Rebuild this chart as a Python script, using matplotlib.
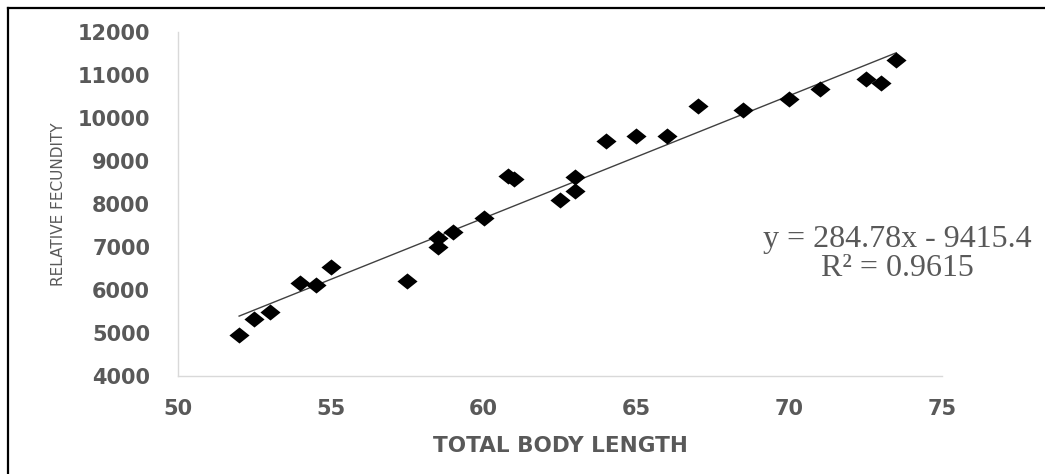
import matplotlib
matplotlib.use("Agg")
import matplotlib.pyplot as plt
from matplotlib.lines import Line2D
import numpy as np

# total body length vs relative fecundity
body_length = [52, 52.5, 53, 54, 54.5, 55, 57.5, 58.5, 58.5, 59, 60, 60.8, 61,
               62.5, 63, 63, 64, 65, 66, 67, 68.5, 70, 71, 72.5, 73, 73.5]
fecundity = [4950, 5320, 5490, 6160, 6120, 6530, 6210, 7210, 7000, 7350, 7680,
             8650, 8580, 8090, 8300, 8620, 9460, 9580, 9580, 10280, 10190,
             10440, 10670, 10910, 10810, 11340]

# trend line as printed on the chart
slope = 284.78
intercept = -9415.4
r_squared = 0.9615

x_ticks = [50, 55, 60, 65, 70, 75]
y_ticks = [4000, 5000, 6000, 7000, 8000, 9000, 10000, 11000, 12000]

grey = "#595959"

fig = plt.figure(figsize=(10.45, 4.74), dpi=100)
ax = fig.add_axes([178 / 1045, 1 - 376 / 474, 764 / 1045, 344 / 474])

# a diamond a bit wider than tall, like the picture
diamond = [(-1, 0), (0, 0.8), (1, 0), (0, -0.8), (-1, 0)]
ax.scatter(body_length, fecundity, marker=diamond, s=210, color="black",
           zorder=3, linewidths=0)

xs = np.array([min(body_length), max(body_length)])
ax.plot(xs, slope * xs + intercept, color="#404040", lw=1.0, zorder=2)

ax.set_xlim(50, 75)
ax.set_ylim(4000, 12000)
ax.set_xticks(x_ticks)
ax.set_yticks(y_ticks)

for side in ["top", "right"]:
    ax.spines[side].set_visible(False)
for side in ["left", "bottom"]:
    ax.spines[side].set_color("#d9d9d9")
    ax.spines[side].set_linewidth(1.0)

ax.tick_params(axis="both", length=0, labelsize=15, labelcolor=grey)
ax.tick_params(axis="y", pad=20)
ax.tick_params(axis="x", pad=16.5)
for lab in ax.get_xticklabels() + ax.get_yticklabels():
    lab.set_fontweight("bold")
    lab.set_family("DejaVu Sans")

ax.set_xlabel("TOTAL BODY LENGTH", fontsize=15.5, fontweight="bold", color=grey,
              family="DejaVu Sans")
ax.xaxis.set_label_coords(0.5, -0.174)
ax.set_ylabel("RELATIVE FECUNDITY", fontsize=11, color=grey,
              family=["Liberation Sans Narrow", "DejaVu Sans"])
ax.yaxis.set_label_coords(-0.146, 0.5)

eq = "y = %.2fx - %.1f\nR² = %.4f" % (slope, -intercept, r_squared)
fig.text(897 / 1045, 1 - 254 / 474, eq, ha="center", va="center",
         multialignment="center", fontsize=23, color=grey,
         family="Liberation Serif", linespacing=1.0)

# outer frame, only the top and left edges show in the picture
fig.add_artist(Line2D([8 / 1045, 1.0], [1 - 8 / 474, 1 - 8 / 474],
                      transform=fig.transFigure, color="black", lw=1.6))
fig.add_artist(Line2D([8 / 1045, 8 / 1045], [0.0, 1 - 8 / 474],
                      transform=fig.transFigure, color="black", lw=1.6))

fig.savefig("out.png", dpi=100)
